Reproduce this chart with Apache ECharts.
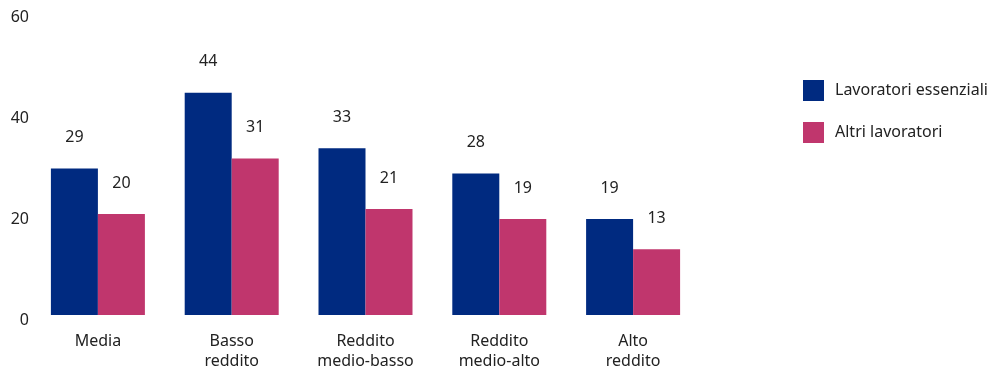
<!DOCTYPE html>
<html>
<head>
<meta charset="utf-8">
<script src="https://cdn.jsdelivr.net/npm/echarts@6/dist/echarts.min.js"></script>
<style>html,body{margin:0;padding:0;background:#fff}#c{width:1001px;height:373px}</style>
</head>
<body>
<div id="c"></div>
<script>
const categories = ["Media", "Basso\nreddito", "Reddito\nmedio-basso", "Reddito\nmedio-alto", "Alto\nreddito"];
const essenziali = [29, 44, 33, 28, 19];
const altri = [20, 31, 21, 19, 13];
const seriesNames = ["Lavoratori essenziali", "Altri lavoratori"];
const yTicks = [0, 20, 40, 60];

const font = "'Noto Sans', 'Open Sans', sans-serif";
const chart = echarts.init(document.getElementById('c'), null, {renderer: 'canvas'});
const lbl = {show: true, position: 'top', distance: 23, color: '#222', fontSize: 16, fontFamily: font};
chart.setOption({
  animation: false,
  textStyle: {fontFamily: font},
  grid: {left: 31, right: 301, top: 12, bottom: 58, containLabel: false},
  legend: {
    orient: 'vertical', left: 798, top: 75, itemWidth: 21, itemHeight: 21, itemGap: 21,
    icon: 'rect', data: seriesNames,
    textStyle: {fontSize: 16, color: '#222', fontFamily: font, padding: [0, 0, 0, 6]}
  },
  xAxis: {
    type: 'category', data: categories,
    axisLine: {show: false}, axisTick: {show: false},
    axisLabel: {color: '#222', fontSize: 16, lineHeight: 20, margin: 16, fontFamily: font, interval: 0}
  },
  yAxis: {
    type: 'value', min: yTicks[0], max: yTicks[yTicks.length - 1], interval: 20,
    splitLine: {show: false}, axisLine: {show: false}, axisTick: {show: false},
    axisLabel: {color: '#222', fontSize: 16, margin: 2, fontFamily: font, verticalAlign: 'top', lineHeight: 10}
  },
  series: [
    {name: seriesNames[0], type: 'bar', data: essenziali, barWidth: 47, barGap: '0%', itemStyle: {color: '#002a80'}, label: lbl},
    {name: seriesNames[1], type: 'bar', data: altri, barWidth: 47, itemStyle: {color: '#c0366d'}, label: lbl}
  ]
});
</script>
</body>
</html>
